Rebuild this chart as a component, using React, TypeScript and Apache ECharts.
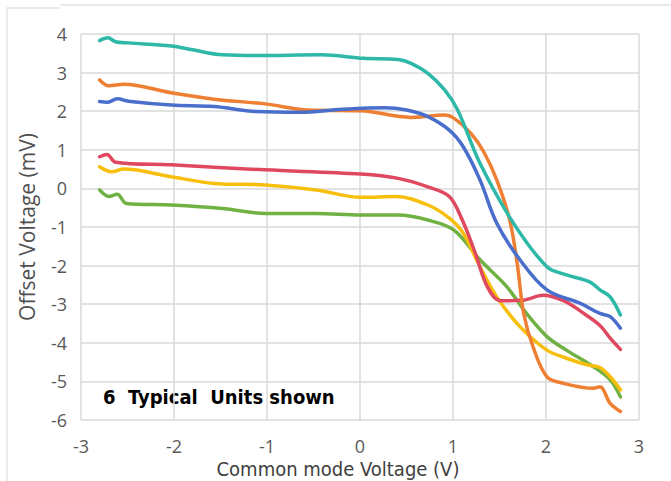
import React, { useEffect, useRef } from "react";
import * as echarts from "echarts";

// Input offset voltage vs. common-mode voltage, six typical units: [Vcm (V), Vos (mV)]
const unitTeal: number[][] = [
  [-2.8, 3.83], [-2.71, 3.9], [-2.63, 3.8], [-2.49, 3.77], [-2.03, 3.69], [-1.8, 3.59],
  [-1.48, 3.46], [-1.11, 3.44], [-0.42, 3.46], [0.04, 3.37], [0.41, 3.34], [0.55, 3.24],
  [0.73, 2.98], [0.91, 2.55], [1.05, 2.03], [1.29, 0.65], [1.65, -0.9], [2.01, -2.03],
  [2.22, -2.24], [2.47, -2.42], [2.58, -2.63], [2.69, -2.81], [2.8, -3.28],
];
const unitBlue: number[][] = [
  [-2.8, 2.25], [-2.72, 2.23], [-2.61, 2.32], [-2.49, 2.26], [-2.03, 2.16], [-1.57, 2.12],
  [-1.11, 1.99], [-0.65, 1.97], [-0.19, 2.05], [0.27, 2.09], [0.5, 2.03], [0.73, 1.86],
  [0.96, 1.51], [1.11, 1.08], [1.29, 0.22], [1.47, -0.9], [1.72, -1.85], [2.01, -2.63],
  [2.37, -2.98], [2.58, -3.24], [2.69, -3.32], [2.8, -3.62],
];
const unitOrange: number[][] = [
  [-2.8, 2.81], [-2.7, 2.66], [-2.54, 2.7], [-2.03, 2.48], [-1.57, 2.31], [-1.02, 2.19],
  [-0.56, 2.03], [0.01, 2.01], [0.55, 1.84], [0.91, 1.9], [1.01, 1.82], [1.19, 1.43],
  [1.33, 0.95], [1.47, 0.22], [1.61, -0.82], [1.69, -1.94], [1.76, -3.24], [1.86, -4.1],
  [2.01, -4.88], [2.19, -5.05], [2.51, -5.18], [2.58, -5.14], [2.69, -5.57], [2.8, -5.78],
];
const unitRed: number[][] = [
  [-2.8, 0.82], [-2.72, 0.88], [-2.63, 0.68], [-2.03, 0.61], [-1.02, 0.48], [0.01, 0.37],
  [0.41, 0.26], [0.73, 0.04], [0.96, -0.21], [1.1, -0.82], [1.24, -1.68], [1.37, -2.55],
  [1.51, -2.91], [1.74, -2.9], [1.97, -2.77], [2.2, -2.92], [2.37, -3.18], [2.58, -3.55],
  [2.69, -3.88], [2.8, -4.17],
];
const unitYellow: number[][] = [
  [-2.8, 0.56], [-2.67, 0.43], [-2.54, 0.5], [-2.03, 0.3], [-1.57, 0.13], [-1.02, 0.09],
  [-0.47, -0.04], [0.01, -0.23], [0.39, -0.21], [0.73, -0.43], [0.96, -0.77], [1.11, -1.16],
  [1.29, -2.03], [1.47, -2.81], [1.72, -3.58], [2.01, -4.19], [2.22, -4.4], [2.44, -4.57],
  [2.58, -4.64], [2.69, -4.88], [2.8, -5.22],
];
const unitGreen: number[][] = [
  [-2.8, -0.04], [-2.7, -0.21], [-2.61, -0.15], [-2.51, -0.39], [-2.03, -0.43], [-1.48, -0.52],
  [-1.02, -0.65], [-0.47, -0.65], [0.01, -0.69], [0.41, -0.69], [0.73, -0.82], [1.01, -1.08],
  [1.29, -1.85], [1.58, -2.55], [1.79, -3.24], [2.01, -3.84], [2.22, -4.19], [2.51, -4.62],
  [2.69, -4.96], [2.8, -5.4],
];

const units = [
  { name: "Unit 1", data: unitGreen, color: "#70B143" },
  { name: "Unit 2", data: unitYellow, color: "#F8BE0C" },
  { name: "Unit 3", data: unitRed, color: "#E04860" },
  { name: "Unit 4", data: unitOrange, color: "#EE7F33" },
  { name: "Unit 5", data: unitBlue, color: "#4A6ECC" },
  { name: "Unit 6", data: unitTeal, color: "#2DB8A8" },
];

const xTitle = "Common mode Voltage (V)";
const yTitle = "Offset Voltage (mV)";
const note = "6  Typical  Units shown";

export default function App() {
  const ref = useRef<HTMLDivElement>(null);

  useEffect(() => {
    if (!ref.current) return;
    const chart = echarts.init(ref.current, null, { renderer: "svg" });
    const gridColor = "#D9D9D9";
    chart.setOption({
      animation: false,
      backgroundColor: "#FFFFFF",
      grid: { left: 81, right: 32, top: 34, bottom: 61 },
      xAxis: {
        type: "value",
        min: -3,
        max: 3,
        interval: 1,
        axisLine: { show: false },
        axisTick: { show: false },
        splitLine: { show: true, lineStyle: { color: gridColor, width: 1.5 } },
        axisLabel: {
          color: "#595959",
          fontSize: 18,
          fontFamily: "Open Sans",
          margin: 17,
        },
      },
      yAxis: {
        type: "value",
        min: -6,
        max: 4,
        interval: 1,
        axisLine: { show: false },
        axisTick: { show: false },
        splitLine: { show: true, lineStyle: { color: gridColor, width: 1.5 } },
        axisLabel: {
          color: "#595959",
          fontSize: 18,
          fontFamily: "Open Sans",
          margin: 14,
        },
      },
      series: units.map((u) => ({
        type: "line",
        name: u.name,
        data: u.data,
        smooth: 0.35,
        showSymbol: false,
        symbol: "none",
        lineStyle: { color: u.color, width: 3.5, cap: "round", join: "round" },
        itemStyle: { color: u.color },
      })),
      graphic: [
        {
          type: "line",
          shape: { x1: 60, y1: 5, x2: 671, y2: 5 },
          style: { stroke: "#E3E3E3", lineWidth: 1.5 },
        },
        {
          type: "polyline",
          shape: { points: [[7, 481], [7, 8], [60, 8]] },
          style: { stroke: "#E3E3E3", lineWidth: 1.5, fill: "none" },
        },
        {
          type: "text",
          x: 338,
          y: 469,
          style: {
            text: xTitle,
            fill: "#404040",
            font: '20px "DejaVu Sans Condensed", "DejaVu Sans", sans-serif',
            align: "center",
            verticalAlign: "middle",
          },
        },
        {
          type: "text",
          x: 27,
          y: 227,
          rotation: Math.PI / 2,
          style: {
            text: yTitle,
            fill: "#505050",
            font: '21px "Open Sans", sans-serif',
            align: "center",
            verticalAlign: "middle",
          },
        },
        {
          type: "text",
          x: 103,
          y: 397,
          style: {
            text: note,
            fill: "#000000",
            font: 'bold 20px "Liberation Sans Narrow", "DejaVu Sans Condensed", sans-serif',
            align: "left",
            verticalAlign: "middle",
          },
        },
      ],
    });
    return () => chart.dispose();
  }, []);

  return (
    <div
      ref={ref}
      style={{ position: "absolute", left: 0, top: 0, width: 671, height: 481 }}
    />
  );
}
